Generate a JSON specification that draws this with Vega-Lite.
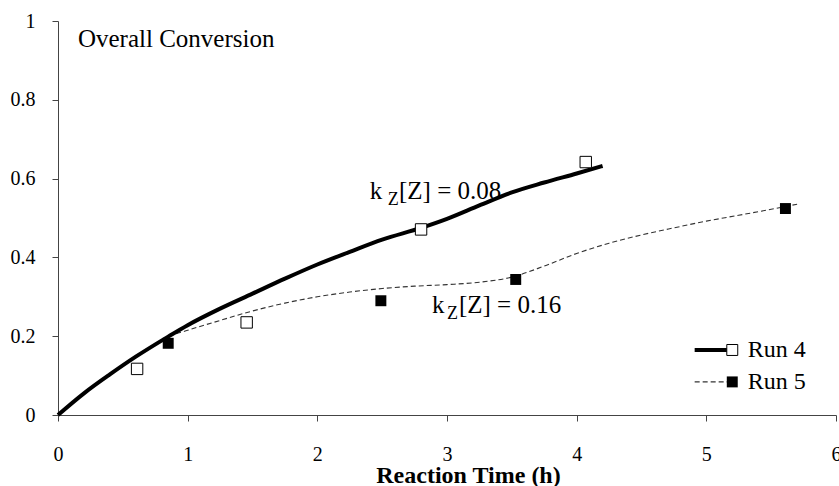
{
  "$schema": "https://vega.github.io/schema/vega-lite/v6.json",
  "width": 778,
  "height": 394,
  "autosize": "none",
  "padding": {"left": 58, "top": 21, "right": 3, "bottom": 71},
  "background": "white",
  "config": {
    "view": {"stroke": null},
    "font": "Times New Roman, Liberation Serif, serif",
    "text": {"font": "Times New Roman, Liberation Serif, serif"},
    "axis": {"grid": false, "domainColor": "#444", "tickColor": "#444", "domainWidth": 1, "tickWidth": 1, "labelFont": "Times New Roman, Liberation Serif, serif", "labelColor": "#000", "titleFont": "Times New Roman, Liberation Serif, serif", "titleColor": "#000"}
  },
  "datasets": {
    "curve4": [
      {"x": 0, "y": 0}, {"x": 0.2, "y": 0.055}, {"x": 0.4, "y": 0.103}, {"x": 0.6, "y": 0.148},
      {"x": 0.85, "y": 0.199}, {"x": 1.0, "y": 0.228}, {"x": 1.25, "y": 0.27}, {"x": 1.5, "y": 0.308},
      {"x": 1.75, "y": 0.346}, {"x": 2.0, "y": 0.382}, {"x": 2.25, "y": 0.414}, {"x": 2.5, "y": 0.445},
      {"x": 2.8, "y": 0.475}, {"x": 3.0, "y": 0.498}, {"x": 3.25, "y": 0.532}, {"x": 3.5, "y": 0.565},
      {"x": 3.75, "y": 0.59}, {"x": 4.0, "y": 0.613}, {"x": 4.2, "y": 0.632}
    ],
    "curve5": [
      {"x": 0, "y": 0}, {"x": 0.2, "y": 0.055}, {"x": 0.4, "y": 0.103}, {"x": 0.6, "y": 0.148},
      {"x": 0.85, "y": 0.199}, {"x": 1.0, "y": 0.215}, {"x": 1.25, "y": 0.24}, {"x": 1.5, "y": 0.264},
      {"x": 1.75, "y": 0.284}, {"x": 2.0, "y": 0.3}, {"x": 2.25, "y": 0.312}, {"x": 2.5, "y": 0.321},
      {"x": 2.75, "y": 0.327}, {"x": 3.0, "y": 0.331}, {"x": 3.25, "y": 0.337}, {"x": 3.5, "y": 0.35},
      {"x": 3.75, "y": 0.378}, {"x": 4.0, "y": 0.41}, {"x": 4.25, "y": 0.436}, {"x": 4.5, "y": 0.457},
      {"x": 4.75, "y": 0.475}, {"x": 5.0, "y": 0.492}, {"x": 5.25, "y": 0.507}, {"x": 5.5, "y": 0.522},
      {"x": 5.7, "y": 0.535}
    ],
    "run4": [
      {"x": 0.61, "y": 0.117}, {"x": 1.455, "y": 0.235}, {"x": 2.8, "y": 0.471}, {"x": 4.07, "y": 0.642}
    ],
    "run5": [
      {"x": 0.85, "y": 0.182}, {"x": 2.49, "y": 0.29}, {"x": 3.53, "y": 0.344}, {"x": 5.61, "y": 0.524}
    ],
    "title": [{"x": 0.154, "y": 0.955, "t": "Overall Conversion"}],
    "ann": [
      {"x": 2.405, "y": 0.569, "t": "k"}, {"x": 2.63, "y": 0.569, "t": "[Z] = 0.08"},
      {"x": 2.884, "y": 0.279, "t": "k"}, {"x": 3.092, "y": 0.279, "t": "[Z] = 0.16"}
    ],
    "sub": [
      {"x": 2.544, "y": 0.546, "t": "Z"}, {"x": 3.0, "y": 0.256, "t": "Z"}
    ],
    "leg4line": [{"x": 4.91, "y": 0.165}, {"x": 5.16, "y": 0.165}],
    "leg5line": [{"x": 4.91, "y": 0.084}, {"x": 5.16, "y": 0.084}],
    "leg4pt": [{"x": 5.2, "y": 0.165}],
    "leg5pt": [{"x": 5.2, "y": 0.084}],
    "legtext": [{"x": 5.32, "y": 0.165, "t": "Run 4"}, {"x": 5.32, "y": 0.084, "t": "Run 5"}]
  },
  "encoding": {
    "x": {"field": "x", "type": "quantitative", "scale": {"domain": [0, 6], "nice": false, "zero": false},
      "axis": {"title": "Reaction Time (h)", "values": [0, 1, 2, 3, 4, 5, 6], "labelExpr": "'' + datum.value", "labelFont": "Times New Roman, Liberation Serif, serif", "labelFontSize": 20, "tickSize": 6, "labelPadding": 23, "titleFont": "Times New Roman, Liberation Serif, serif", "titleFontSize": 24, "titleFontWeight": "bold", "titleX": 410, "titleY": 67, "titleBaseline": "alphabetic", "titleAlign": "center", "labelFlush": false, "labelOverlap": false}},
    "y": {"field": "y", "type": "quantitative", "scale": {"domain": [0, 1], "nice": false, "zero": false},
      "axis": {"title": null, "values": [0, 0.2, 0.4, 0.6, 0.8, 1], "labelExpr": "'' + datum.value", "labelFont": "Times New Roman, Liberation Serif, serif", "labelFontSize": 20, "tickSize": 6, "labelPadding": 17, "labelFlush": false, "labelOverlap": false}}
  },
  "layer": [
    {"data": {"name": "curve5"}, "mark": {"type": "line", "interpolate": "monotone", "color": "#333", "strokeWidth": 1.1, "strokeDash": [5, 3]}},
    {"data": {"name": "curve4"}, "mark": {"type": "line", "interpolate": "monotone", "color": "#000", "strokeWidth": 4}},
    {"data": {"name": "run4"}, "mark": {"type": "point", "shape": "square", "size": 130, "filled": true, "fill": "white", "stroke": "#000", "strokeWidth": 1, "opacity": 1}},
    {"data": {"name": "run5"}, "mark": {"type": "point", "shape": "square", "size": 120, "filled": true, "fill": "#000", "opacity": 1}},
    {"data": {"name": "title"}, "mark": {"type": "text", "font": "Times New Roman, Liberation Serif, serif", "align": "left", "baseline": "middle", "fontSize": 25, "color": "#000"}, "encoding": {"text": {"field": "t"}}},
    {"data": {"name": "ann"}, "mark": {"type": "text", "font": "Times New Roman, Liberation Serif, serif", "align": "left", "baseline": "middle", "fontSize": 25, "color": "#000"}, "encoding": {"text": {"field": "t"}}},
    {"data": {"name": "sub"}, "mark": {"type": "text", "font": "Times New Roman, Liberation Serif, serif", "align": "left", "baseline": "middle", "fontSize": 18, "color": "#000"}, "encoding": {"text": {"field": "t"}}},
    {"data": {"name": "leg4line"}, "mark": {"type": "line", "color": "#000", "strokeWidth": 4}},
    {"data": {"name": "leg5line"}, "mark": {"type": "line", "color": "#333", "strokeWidth": 1.1, "strokeDash": [5, 3]}},
    {"data": {"name": "leg4pt"}, "mark": {"type": "point", "shape": "square", "size": 120, "filled": true, "fill": "white", "stroke": "#000", "strokeWidth": 1, "opacity": 1}},
    {"data": {"name": "leg5pt"}, "mark": {"type": "point", "shape": "square", "size": 120, "filled": true, "fill": "#000", "opacity": 1}},
    {"data": {"name": "legtext"}, "mark": {"type": "text", "font": "Times New Roman, Liberation Serif, serif", "align": "left", "baseline": "middle", "fontSize": 24, "color": "#000"}, "encoding": {"text": {"field": "t"}}}
  ]
}
